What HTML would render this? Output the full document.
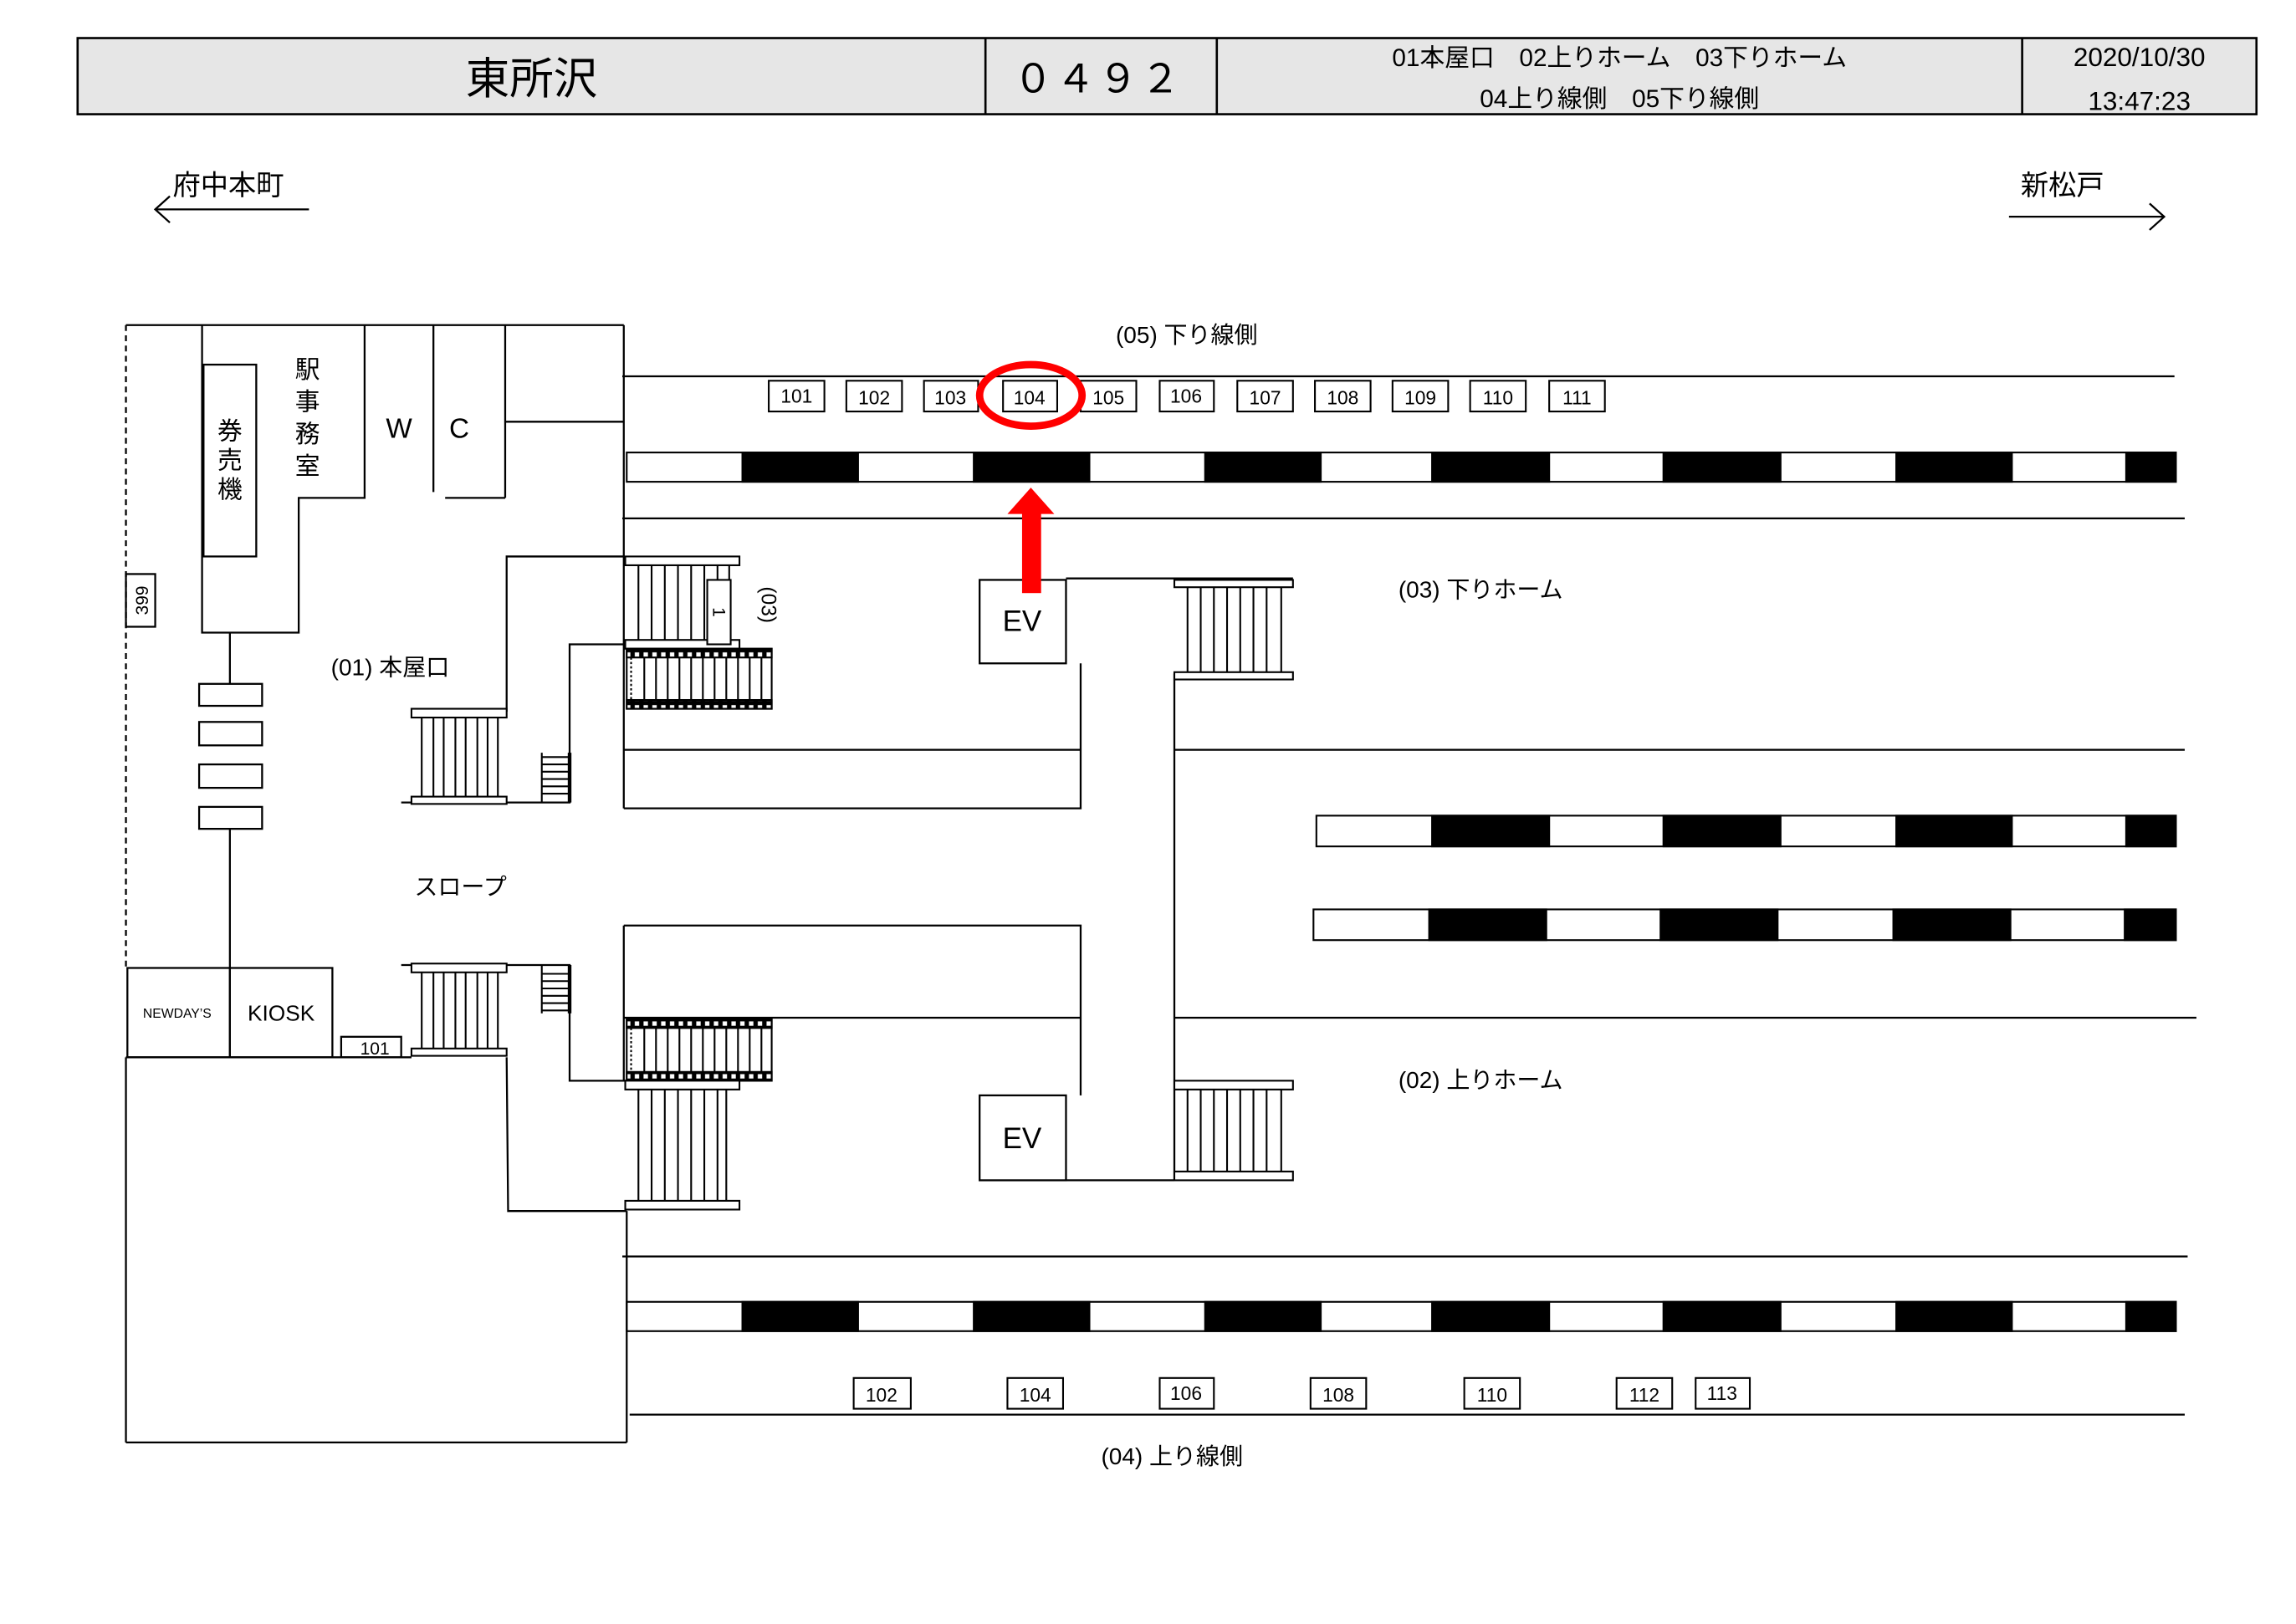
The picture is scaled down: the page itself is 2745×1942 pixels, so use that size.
<!DOCTYPE html>
<html><head><meta charset="utf-8"><style>
html,body{margin:0;padding:0;background:#fff}
svg{display:block}
text{font-family:"Liberation Sans","Noto Sans CJK JP",sans-serif;fill:#000}
</style></head><body>
<svg width="2745" height="1942" viewBox="0 0 1568 1109" preserveAspectRatio="none" xmlns="http://www.w3.org/2000/svg">
<defs>
<pattern id="dots" width="6" height="6" patternUnits="userSpaceOnUse"><rect width="6" height="6" fill="#000"/><rect x="1.5" y="1.5" width="3" height="3" fill="#fff"/></pattern>
</defs>
<rect x="53" y="26" width="1488" height="52" fill="#e6e6e6" stroke="#000" stroke-width="1.5"/>
<g stroke="#000" stroke-width="1.5"><line x1="673" y1="26" x2="673" y2="78"/><line x1="831" y1="26" x2="831" y2="78"/><line x1="1381" y1="26" x2="1381" y2="78"/></g>
<text x="363" y="64" font-size="30" text-anchor="middle">東所沢</text>
<text x="750" y="63" font-size="27" text-anchor="middle" letter-spacing="2">０４９２</text>
<text x="1106" y="45" font-size="17" text-anchor="middle">01本屋口　02上りホーム　03下りホーム</text>
<text x="1106" y="73" font-size="17" text-anchor="middle">04上り線側　05下り線側</text>
<text x="1461" y="45" font-size="18" text-anchor="middle">2020/10/30</text>
<text x="1461" y="75" font-size="18" text-anchor="middle">13:47:23</text>
<text x="118" y="133" font-size="19">府中本町</text>
<g stroke="#000" stroke-width="1.3" fill="none"><line x1="106" y1="143" x2="211" y2="143"/><polyline points="116,134 106,143 116,152"/>
<line x1="1372" y1="148" x2="1478" y2="148"/><polyline points="1468,139 1478,148 1468,157"/></g>
<text x="1380" y="133" font-size="19">新松戸</text>
<g stroke="#000" stroke-width="1.2">
<rect x="428" y="309" width="1058" height="20" fill="#fff"/>
<rect x="507" y="309" width="79" height="20"/><rect x="665" y="309" width="79" height="20"/><rect x="823" y="309" width="79" height="20"/><rect x="978" y="309" width="80" height="20"/><rect x="1136" y="309" width="80" height="20"/><rect x="1295" y="309" width="79" height="20"/><rect x="1452" y="309" width="34" height="20"/>
<rect x="428" y="889" width="1058" height="20" fill="#fff"/>
<rect x="507" y="889" width="79" height="20"/><rect x="665" y="889" width="79" height="20"/><rect x="823" y="889" width="79" height="20"/><rect x="978" y="889" width="80" height="20"/><rect x="1136" y="889" width="80" height="20"/><rect x="1295" y="889" width="79" height="20"/><rect x="1452" y="889" width="34" height="20"/>
<rect x="899" y="557" width="587" height="21" fill="#fff"/>
<rect x="978" y="557" width="80" height="21"/><rect x="1136" y="557" width="80" height="21"/><rect x="1295" y="557" width="79" height="21"/><rect x="1452" y="557" width="34" height="21"/>
<rect x="897" y="621" width="589" height="21" fill="#fff"/>
<rect x="976" y="621" width="80" height="21"/><rect x="1134" y="621" width="80" height="21"/><rect x="1293" y="621" width="80" height="21"/><rect x="1451" y="621" width="35" height="21"/>
</g>
<g stroke="#000" stroke-width="1.3" fill="none">
<line x1="425" y1="257" x2="1485" y2="257"/>
<line x1="425" y1="354" x2="1492" y2="354"/>
<line x1="802" y1="512" x2="1492" y2="512"/>
<line x1="802" y1="695" x2="1500" y2="695"/>
<line x1="425" y1="858" x2="1494" y2="858"/>
<line x1="430" y1="966" x2="1492" y2="966"/>
<line x1="86" y1="222" x2="86" y2="661" stroke-dasharray="4,3"/>
<line x1="86" y1="222" x2="426" y2="222"/>
<line x1="426" y1="222" x2="426" y2="552"/>
<line x1="426" y1="632" x2="426" y2="738"/>
<line x1="428" y1="827" x2="428" y2="985"/>
<line x1="86" y1="722" x2="86" y2="985"/>
<line x1="86" y1="985" x2="428" y2="985"/>
<polyline points="138,222 138,432 204,432 204,340 249,340 249,222"/>
<line x1="296" y1="222" x2="296" y2="336"/>
<line x1="304" y1="340" x2="345" y2="340"/>
<line x1="345" y1="222" x2="345" y2="340"/>
<line x1="345" y1="288" x2="426" y2="288"/>
<rect x="139" y="249" width="36" height="131"/>
<rect x="86" y="392" width="20" height="36"/>
<line x1="157" y1="432" x2="157" y2="467"/>
<rect x="136" y="467" width="43" height="15"/><rect x="136" y="493" width="43" height="16"/><rect x="136" y="522" width="43" height="16"/><rect x="136" y="551" width="43" height="15"/>
<line x1="157" y1="566" x2="157" y2="661"/>
<rect x="87" y="661" width="70" height="61"/><rect x="157" y="661" width="70" height="61"/>
<line x1="86" y1="722" x2="281" y2="722"/>
<rect x="233" y="708" width="41" height="14"/>
<polyline points="346,486 346,380 426,380"/>
<polyline points="274,548 389,548 389,440 428,440"/>
<polyline points="274,659 389,659 389,738 428,738"/>
<polyline points="346,722 347,827 428,827"/>
<polyline points="426,512 738,512"/>
<polyline points="426,552 738,552 738,453"/>
<polyline points="426,632 738,632 738,748"/>
<line x1="426" y1="695" x2="738" y2="695"/>
<line x1="728" y1="395" x2="883" y2="395"/>
<line x1="802" y1="460" x2="802" y2="806"/>
<line x1="728" y1="806" x2="802" y2="806"/>
<rect x="669" y="396" width="59" height="57" fill="#fff"/>
<rect x="669" y="748" width="59" height="58" fill="#fff"/>
</g>
<g stroke="#000" stroke-width="1.2" fill="#fff">
<rect x="427" y="380" width="78" height="6"/><rect x="427" y="437" width="78" height="6"/>
<path fill="none" d="M436 386V437M445 386V437M454 386V437M463 386V437M472 386V437M481 386V437M490 386V437M498 386V437"/>
<rect x="483" y="396" width="16" height="44"/>
<rect x="428" y="443" width="99" height="41"/>
<rect x="428" y="443" width="99" height="6" fill="url(#dots)"/><rect x="428" y="478" width="99" height="6" fill="url(#dots)"/>
<rect x="428" y="696" width="99" height="42"/>
<rect x="428" y="696" width="99" height="6" fill="url(#dots)"/><rect x="428" y="732" width="99" height="6" fill="url(#dots)"/>
<g fill="none">
<path d="M440 449V478M448 449V478M456 449V478M464 449V478M472 449V478M480 449V478M488 449V478M496 449V478M504 449V478M512 449V478M520 449V478"/>
<path d="M440 702V732M448 702V732M456 702V732M464 702V732M472 702V732M480 702V732M488 702V732M496 702V732M504 702V732M512 702V732M520 702V732"/>
<line x1="431" y1="449" x2="431" y2="478" stroke-dasharray="1.5,1.5"/>
<line x1="431" y1="702" x2="431" y2="732" stroke-dasharray="1.5,1.5"/>
</g>
<rect x="427" y="738" width="78" height="6"/><rect x="427" y="820" width="78" height="6"/>
<path fill="none" d="M436 744V820M445 744V820M454 744V820M463 744V820M472 744V820M481 744V820M490 744V820M496 744V820"/>
<rect x="281" y="484" width="65" height="6"/><rect x="281" y="544" width="65" height="5"/>
<path fill="none" d="M288 490V544M296 490V544M303 490V544M311 490V544M318 490V544M326 490V544M333 490V544M340 490V544"/>
<rect x="281" y="658" width="65" height="6"/><rect x="281" y="716" width="65" height="5"/>
<path fill="none" d="M288 664V716M296 664V716M303 664V716M311 664V716M318 664V716M326 664V716M333 664V716M340 664V716"/>
<path fill="none" d="M370 514V548M370 517H389M370 522H389M370 527H389M370 532H389M370 537H389M370 542H389"/>
<path fill="none" d="M370 659V692M370 665H389M370 670H389M370 675H389M370 680H389M370 685H389M370 690H389"/>
<line x1="389" y1="514" x2="389" y2="548" stroke-width="2.5"/>
<line x1="389" y1="659" x2="389" y2="692" stroke-width="2.5"/>
<rect x="802" y="396" width="81" height="5"/><rect x="802" y="459" width="81" height="5"/>
<path fill="none" d="M811 401V459M820 401V459M829 401V459M838 401V459M847 401V459M856 401V459M865 401V459M875 401V459"/>
<rect x="802" y="738" width="81" height="6"/><rect x="802" y="800" width="81" height="6"/>
<path fill="none" d="M811 744V800M820 744V800M829 744V800M838 744V800M847 744V800M856 744V800M865 744V800M875 744V800"/>
</g>
<g stroke="#000" stroke-width="1.2" fill="#fff">
<rect x="525" y="260" width="38" height="21"/><rect x="578" y="260" width="38" height="21"/><rect x="631" y="260" width="37" height="21"/><rect x="685" y="260" width="37" height="21"/><rect x="738" y="260" width="38" height="21"/><rect x="792" y="260" width="37" height="21"/><rect x="845" y="260" width="38" height="21"/><rect x="898" y="260" width="38" height="21"/><rect x="951" y="260" width="38" height="21"/><rect x="1004" y="260" width="38" height="21"/><rect x="1058" y="260" width="38" height="21"/>
<rect x="583" y="941" width="39" height="21"/><rect x="688" y="941" width="38" height="21"/><rect x="792" y="941" width="37" height="21"/><rect x="895" y="941" width="38" height="21"/><rect x="1000" y="941" width="38" height="21"/><rect x="1104" y="941" width="38" height="21"/><rect x="1158" y="941" width="37" height="21"/>
</g>
<g font-size="13" text-anchor="middle">
<text x="544" y="275">101</text><text x="597" y="276">102</text><text x="649" y="276">103</text><text x="703" y="276">104</text><text x="757" y="276">105</text><text x="810" y="275">106</text><text x="864" y="276">107</text><text x="917" y="276">108</text><text x="970" y="276">109</text><text x="1023" y="276">110</text><text x="1077" y="276">111</text>
<text x="602" y="957">102</text><text x="707" y="957">104</text><text x="810" y="956">106</text><text x="914" y="957">108</text><text x="1019" y="957">110</text><text x="1123" y="957">112</text><text x="1176" y="956">113</text>
<text x="256" y="720" font-size="12">101</text>
</g>
<g font-size="16">
<text x="762" y="234">(05) 下り線側</text>
<text x="955" y="408">(03) 下りホーム</text>
<text x="955" y="743">(02) 上りホーム</text>
<text x="752" y="1000">(04) 上り線側</text>
<text x="226" y="461">(01) 本屋口</text>
<text x="283" y="611">スロープ</text>
</g>
<text x="698" y="431" font-size="20" text-anchor="middle">EV</text>
<text x="698" y="784" font-size="20" text-anchor="middle">EV</text>
<text x="192" y="697" font-size="15" text-anchor="middle">KIOSK</text>
<text x="121" y="695" font-size="9" text-anchor="middle">NEWDAY’S</text>
<text x="297" y="299" font-size="19" text-anchor="middle" letter-spacing="10">W C</text>
<g font-size="17" text-anchor="middle">
<text x="210" y="258">駅</text><text x="210" y="280">事</text><text x="210" y="302">務</text><text x="210" y="324">室</text>
<text x="157" y="300">券</text><text x="157" y="320">売</text><text x="157" y="340">機</text>
</g>
<text transform="translate(101,410) rotate(-90)" font-size="12" text-anchor="middle">399</text>
<text transform="translate(520,413) rotate(90)" font-size="14" text-anchor="middle">(03)</text>
<text transform="translate(487,418) rotate(90)" font-size="12" text-anchor="middle">1</text>
<ellipse cx="704" cy="270" rx="35" ry="21" fill="none" stroke="#f00" stroke-width="5"/>
<rect x="698" y="350" width="13" height="55" fill="#f00"/>
<polygon points="688,351 704,333 720,351" fill="#f00"/>
</svg>
</body></html>
